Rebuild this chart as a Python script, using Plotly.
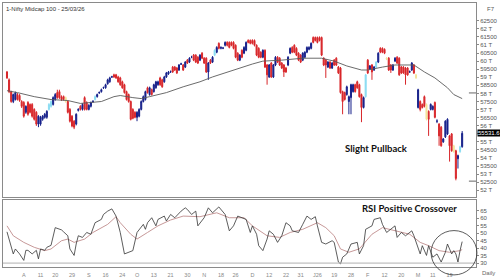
import plotly.graph_objects as go

title_text = "1-Nifty Midcap 100 - 25/03/26"

opens = [59330,58840,58110,57500,57620,57930,57870,57500,57440,56830,
57440,57320,57320,57010,56830,56100,56100,56400,56520,56520,
57010,57200,57320,57620,58050,58110,57800,57800,57740,57500,
57010,56590,56280,56100,56950,57200,57010,57740,57440,57010,
57200,57480,57620,57800,58030,58110,58340,58350,58600,58720,
59010,59150,59150,59020,58960,58720,58540,58110,57930,57500,
57010,56830,56520,56590,57010,57500,57620,58350,57930,58230,
58110,58350,58540,58960,58840,58720,59020,59210,59330,59630,
59630,59570,59450,59810,59760,59630,60060,59940,60240,60370,
60370,60240,60060,60490,60180,60180,59330,60060,59940,60370,
60550,61100,60790,60800,60980,61160,61160,61160,61160,60980,
60490,60060,60670,60490,60670,61280,61280,61280,61280,60980,
60790,60550,60240,60670,59760,59020,59880,59020,59760,60240,
60180,59880,59760,59570,59760,60490,60850,60980,60790,60490,
60370,60060,60240,60550,60730,60790,61460,61460,61460,61460,
61460,60180,60060,59630,59940,59570,60060,60180,59630,59570,
58110,58050,57930,57500,57740,58110,58540,58720,58540,57930,
57130,57800,60060,59510,59760,59450,59630,59940,60790,60790,
60730,60180,60180,59760,59450,60000,60240,60180,59630,59630,
59570,59570,59330,59450,59760,59150,57130,57500,57320,57800,
57320,56890,57010,57010,57440,56280,56100,55910,55000,55310,
55490,55370,55490,54760,54450,53960,54390,54700]

highs = [59390,58930,58170,57990,58110,58020,57960,57580,57520,57260,
57520,57380,57400,57080,56900,56650,56610,56660,56790,56960,
57400,57570,57820,58020,58230,58230,57880,57870,57810,57570,
57090,56660,56350,56770,57080,57270,57390,57820,57510,57330,
57500,57580,57880,57990,58120,58300,58420,58600,58910,59030,
59090,59220,59210,59090,59030,58790,58600,58170,57990,57560,
57080,56900,56900,57080,57570,57870,58170,58420,58420,58300,
58600,58780,58790,59030,58910,59090,59330,59390,59420,59700,
59700,59640,59820,59900,59820,60000,60130,60240,60330,60440,
60430,60310,60430,60560,60250,60240,59940,60130,60310,60730,
60920,61160,60910,60880,61220,61230,61220,61220,61230,61040,
60550,60430,60730,60920,61220,61350,61340,61350,61340,61040,
60860,60610,60730,60730,59820,59820,59940,59820,60310,60310,
60250,59940,59820,59640,60310,60850,60920,61040,60860,60550,
60430,60550,60610,60910,60920,61160,61530,61520,61520,61530,
61520,60240,60130,60000,60000,59940,60130,60240,59700,59640,
58170,58110,58480,57870,58600,58600,58600,58790,58600,57990,
57810,59210,60130,59760,59820,59700,60000,60550,60860,60850,
60790,60250,60250,59820,59820,60250,60310,60240,59700,59690,
59640,59630,59420,59940,59820,59210,58290,57570,57380,57870,
57380,56950,57380,57260,57500,56400,56160,55980,55240,56340,
56460,55430,55550,54820,54510,54210,54760,55670]

lows = [58900,58020,57420,57400,57560,57560,57480,57100,56500,56740,
56620,56760,56500,56320,55990,55910,56000,56310,56440,56430,
56940,57120,57250,57550,57670,57660,57540,57560,57420,56760,
56200,55900,55790,56020,56880,56940,56940,56940,56950,56950,
57130,57420,57560,57740,57970,58050,58280,58290,58540,58660,
58960,58960,58900,58660,58470,58290,57990,57560,57430,56330,
56400,56460,56280,56520,56950,57440,57560,57990,57860,57870,
58050,58290,58470,58470,58350,58660,58960,59150,59270,59270,
59390,59200,59390,59760,59390,59570,59820,59880,60180,60000,
59880,59820,60000,60120,59820,59270,58840,59820,59880,60310,
60490,60730,60730,60740,60910,60910,60790,60920,60730,60180,
60000,60000,60180,60430,60610,61100,61040,61030,60910,60310,
60180,60180,60180,59570,58540,58960,58960,58960,59690,59880,
59700,59510,59020,59270,59690,60430,60490,60490,60310,60000,
59880,60000,60180,60490,60670,60730,61100,61220,61100,61220,
60310,59690,58960,59570,59510,59510,59700,59700,59200,57990,
56710,57560,57860,56710,56710,58050,58050,58290,57740,56220,
57070,57740,59200,59450,58840,59390,59570,59880,60490,60490,
60430,60060,59390,59270,59390,59940,59820,59090,59200,59210,
58540,59090,59270,59390,59200,58900,57070,56890,57070,57130,
56330,55370,56950,56950,56460,56160,54760,54700,54940,55240,
55430,53780,54390,54330,52620,53350,54330,54640]

closes = [58960,58110,57500,57930,58050,57620,57560,57200,56590,57200,
56710,56830,56590,56400,56100,56590,56520,56590,56710,56890,
57320,57500,57740,57930,57740,57740,57620,57620,57500,56830,
56280,55980,55910,56710,57010,57010,57320,57010,57010,57260,
57440,57510,57800,57930,58060,58230,58360,58540,58840,58960,
59030,59020,58960,58720,58540,58350,58050,57620,57500,56400,
56460,56520,56830,57010,57500,57800,58110,58050,58350,57930,
58540,58720,58720,58540,58410,59020,59270,59330,59340,59330,
59450,59270,59760,59830,59450,59940,59880,60180,60250,60060,
59940,59880,60370,60180,59880,59330,59880,59880,60240,60670,
60850,60790,60850,60810,61160,60980,60850,60980,60790,60240,
60060,60370,60240,60850,61160,61160,61100,61100,60980,60370,
60240,60240,60670,59630,59150,59760,59020,59760,60240,59940,
59760,59570,59330,59330,60240,60790,60550,60550,60370,60060,
59940,60490,60550,60850,60850,61100,61160,61280,61160,61280,
60370,59760,59760,59940,59570,59880,59760,59760,59270,58050,
57500,57620,58410,57800,58540,58540,58110,58350,57800,57130,
57740,59150,59270,59700,59330,59630,59940,60490,60550,60550,
60490,60120,59450,59450,59760,60180,59880,59150,59270,59270,
59150,59150,59340,59880,59270,58960,58230,57010,57130,57200,
56400,56400,57320,57200,56520,56290,55370,54760,55180,56280,
56400,54760,54450,54390,52740,54150,54700,55530]

# highlighted candles (cyan / yellow markers in the source chart)
cyan_idx = [20, 21, 42, 99, 171, 176, 216]
yellow_idx = [28, 181, 195, 200, 213]

# 50-day moving average (candle index, value)
ma_idx = [0, 5, 13, 21, 29, 35, 40, 45, 51, 54, 60, 64, 68, 76, 84, 92, 98, 105,
          111, 117, 122, 131, 141, 150, 156, 162, 169, 172, 179, 185, 194, 199,
          204, 210, 213, 217]
ma_val = [58170, 58050, 57800, 57620, 57560, 57380, 57440, 57500, 57800, 57870,
          57740, 57680, 57800, 58050, 58410, 58720, 59020, 59330, 59570, 59820,
          60000, 60060, 60180, 60180, 60000, 59700, 59450, 59450, 59630, 59760,
          59760, 59330, 58960, 58350, 57930, 57680]

# RSI and its signal line
rsi_idx = [0, 3, 4, 6, 8, 9, 10, 12, 14, 15, 16, 18, 19, 21, 23, 26, 27, 29, 30, 32,
           33, 34, 36, 38, 40, 42, 45, 46, 48, 50, 52, 54, 56, 58, 60, 62, 65, 66, 67, 69,
           71, 72, 75, 76, 78, 80, 83, 85, 86, 88, 90, 91, 94, 96, 98, 101, 103, 104, 106, 108,
           110, 112, 114, 116, 117, 119, 120, 122, 124, 125, 127, 129, 131, 133, 135, 136, 139, 141, 143, 145,
           147, 148, 150, 152, 155, 156, 158, 159, 160, 162, 164, 167, 168, 170, 171, 174, 175, 178, 179, 181,
           183, 185, 186, 188, 190, 193, 194, 197, 198, 200, 201, 203, 205, 207, 209, 210, 212, 213, 214, 215,
           216, 217]
rsi_val = [50.8, 36.1, 39.4, 36.1, 31.8, 38.5, 38.5, 36.1, 38.5, 32.8, 39.4, 38.5, 40.5, 41.8, 53.6, 52.1, 50.8, 48.2, 39.4, 35.1,
           42.7, 48.2, 47.1, 50.4, 49.2, 56.9, 59.1, 62.4, 64.6, 66.1, 61.3, 50.4, 36.1, 37.2, 38.3, 50.4, 55.8, 52.5, 56.9, 60.2,
           54.8, 59.1, 61.3, 58.0, 62.4, 60.2, 64.6, 66.8, 65.7, 62.4, 64.6, 54.8, 60.2, 66.8, 63.5, 67.4, 63.5, 62.4, 51.5, 54.8,
           61.3, 60.2, 59.1, 50.4, 54.8, 49.2, 41.6, 38.3, 46.0, 51.5, 49.2, 43.8, 48.2, 56.9, 54.8, 51.5, 50.4, 55.8, 61.3, 59.1,
           60.9, 54.8, 43.8, 42.7, 44.9, 43.8, 30.7, 29.5, 33.9, 36.1, 42.7, 43.8, 36.1, 41.6, 52.5, 54.8, 59.1, 60.2, 55.8, 50.4,
           52.5, 54.8, 47.1, 50.4, 48.2, 51.5, 48.2, 36.1, 41.6, 35.1, 41.6, 33.9, 36.1, 30.7, 37.2, 42.7, 36.1, 38.3, 36.1, 30.7,
           38.3, 44.3]
sig_idx = [0, 3, 8, 13, 18, 21, 26, 29, 32, 37, 41, 48, 52, 54, 59, 62, 67, 72, 78, 84,
           92, 100, 106, 113, 117, 124, 130, 135, 141, 148, 152, 156, 159, 163, 168, 174, 179, 186, 192, 197,
           201, 206, 211, 216, 217]
sig_val = [54.8, 48.2, 43.8, 40.5, 38.3, 39.4, 44.9, 46.0, 43.8, 46.0, 50.4, 55.8, 60.9, 56.9, 49.2, 46.0, 50.4, 54.8, 58.7, 61.3,
           60.9, 63.5, 60.2, 60.2, 54.8, 48.2, 47.1, 50.4, 52.5, 56.9, 53.6, 48.2, 39.4, 37.2, 39.5, 49.2, 53.6, 51.5, 49.2, 43.8,
           41.6, 38.3, 37.2, 38.3, 39.0]

price_ticks = [51500, 52000, 52500, 53000, 53500, 54000, 54500, 55000, 55500, 56000, 56500,
               57000, 57500, 58000, 58500, 59000, 59500, 60000, 60500, 61000, 61500, 62000, 62500]
# the 55500 label sits under the last-price box in the source, so it is left blank
price_labels = ["51500", "52 T", "52500", "53 T", "53500", "54 T", "54500", "55 T", "", "56 T", "56500",
                "57 T", "57500", "58 T", "58500", "59 T", "59500", "60 T", "60500", "61 T", "61500", "62 T", "62500"]
rsi_ticks = [30, 35, 40, 45, 50, 55, 60, 65]
rsi_labels = ["30", "35", "40", "45", "50", "55", "60", "65"]
date_ticks = [8, 16, 23, 31, 39, 47, 55, 62, 70, 78, 86, 94, 102, 109, 117, 125, 133, 140, 148,
              156, 164, 172, 180, 188, 196, 203, 211]
date_labels = ["A", "11", "20", "29", "S", "16", "24", "O", "13", "21", "30", "N", "18", "26", "D",
               "12", "22", "31", "J26", "19", "28", "F", "12", "20", "M", "11", "19"]
last_price = 55531.6
last_label = "55531.6"
ma_marker = 58030
low_marker = 52570

assert len(opens) == len(highs) == len(lows) == len(closes)

NAVY = "#16208a"
RED = "#d8262a"
CYAN = "#8adcf2"
YELLOW = "#f3e39a"
AXC = "#8a8a8a"
TXT = "#555555"
FONT = "Liberation Sans"

n = len(closes)
hl = set(cyan_idx) | set(yellow_idx)
main_idx = [i for i in range(n) if i not in hl]


def pick(arr, ids):
    return [arr[i] for i in ids]


fig = go.Figure()


def add_candles(ids, up, down):
    fig.add_trace(go.Candlestick(
        x=ids, open=pick(opens, ids), high=pick(highs, ids), low=pick(lows, ids), close=pick(closes, ids),
        increasing=dict(line=dict(color=up, width=1), fillcolor=up),
        decreasing=dict(line=dict(color=down, width=1), fillcolor=down),
        whiskerwidth=0, showlegend=False, hoverinfo="skip", xaxis="x", yaxis="y"))


add_candles(main_idx, NAVY, RED)
add_candles(cyan_idx, CYAN, CYAN)
add_candles(yellow_idx, YELLOW, YELLOW)

fig.add_trace(go.Scatter(x=ma_idx, y=ma_val, mode="lines", line=dict(color="#5a5a5a", width=0.9),
                         showlegend=False, hoverinfo="skip", xaxis="x", yaxis="y"))
fig.add_trace(go.Scatter(x=sig_idx, y=sig_val, mode="lines", line=dict(color="#c08c8c", width=0.9),
                         showlegend=False, hoverinfo="skip", xaxis="x2", yaxis="y2"))
fig.add_trace(go.Scatter(x=rsi_idx, y=rsi_val, mode="lines", line=dict(color="#333333", width=0.8),
                         showlegend=False, hoverinfo="skip", xaxis="x2", yaxis="y2"))

tickfont = dict(family=FONT, size=6, color=TXT)

fig.update_layout(
    width=500, height=280,
    margin=dict(l=2, r=23, t=2, b=10),
    paper_bgcolor="white", plot_bgcolor="white",
    font=dict(family=FONT, size=6, color=TXT),
    xaxis=dict(domain=[0, 1], anchor="y", range=[-1.9, 223.6], showticklabels=False,
               showgrid=False, zeroline=False, showline=True, mirror=True, linecolor=AXC, linewidth=1,
               rangeslider=dict(visible=False), ticks=""),
    xaxis2=dict(domain=[0, 1], anchor="y2", matches="x", tickmode="array", tickvals=date_ticks,
                ticktext=date_labels, tickfont=dict(family=FONT, size=5.5, color="#888"), ticks="",
                ticklabelstandoff=2,
                showgrid=False, zeroline=False, showline=True, mirror=True, linecolor=AXC, linewidth=1),
    yaxis=dict(domain=[0.265, 1], range=[51585, 63598], side="right", tickmode="array",
               tickvals=price_ticks, ticktext=price_labels, tickfont=tickfont, ticks="outside", ticklen=2,
               tickcolor=AXC, showgrid=False, zeroline=False, showline=True, mirror=True,
               linecolor=AXC, linewidth=1),
    yaxis2=dict(domain=[0, 0.2537], range=[27.4, 72.0], side="right", tickmode="array",
                tickvals=rsi_ticks, ticktext=rsi_labels, tickfont=tickfont, ticks="outside", ticklen=2,
                tickcolor=AXC, showgrid=False, zeroline=False, showline=True, mirror=True,
                linecolor=AXC, linewidth=1),
    shapes=[
        dict(type="line", xref="paper", x0=0, x1=1, yref="y2", y0=30, y1=30,
             line=dict(color="#b0b0b0", width=1)),
        dict(type="line", xref="paper", x0=0.985, x1=1, yref="y", y0=ma_marker, y1=ma_marker,
             line=dict(color="#666", width=1)),
        dict(type="line", xref="paper", x0=0.985, x1=1, yref="y", y0=low_marker, y1=low_marker,
             line=dict(color="#666", width=1)),
        dict(type="circle", xref="paper", yref="paper", x0=0.905, x1=1.002, y0=-0.030, y1=0.138,
             line=dict(color="#333", width=0.8)),
    ],
    annotations=[
        dict(text=title_text, xref="paper", yref="paper", x=0, y=1, xanchor="left", yanchor="top",
             xshift=1, yshift=-1, showarrow=False, font=dict(family=FONT, size=6, color="#333")),
        dict(text="F7", xref="paper", yref="paper", x=1, y=1, xanchor="right", yanchor="top",
             xshift=21, yshift=-1, showarrow=False, font=dict(family=FONT, size=6, color="#555")),
        dict(text=last_label, xref="paper", x=1, xanchor="left", xshift=1, yref="y", y=last_price,
             showarrow=False, bgcolor="black", borderpad=0, font=dict(family=FONT, size=6, color="white")),
        dict(text="Daily", xref="paper", yref="paper", x=1, y=0, xanchor="left", yanchor="top",
             xshift=4, yshift=-1, showarrow=False, font=dict(family=FONT, size=6, color="#666")),
        dict(text="<b>Slight Pullback</b>", x=176, y=54573, xref="x", yref="y", showarrow=False,
             font=dict(family="Lato", size=9.5, color="#111")),
        dict(text="<b>RSI Positive Crossover</b>", x=191.8, y=66.3, xref="x2", yref="y2", showarrow=False,
             font=dict(family="Lato", size=9.5, color="#111")),
    ],
)

fig.write_html("out.html")
